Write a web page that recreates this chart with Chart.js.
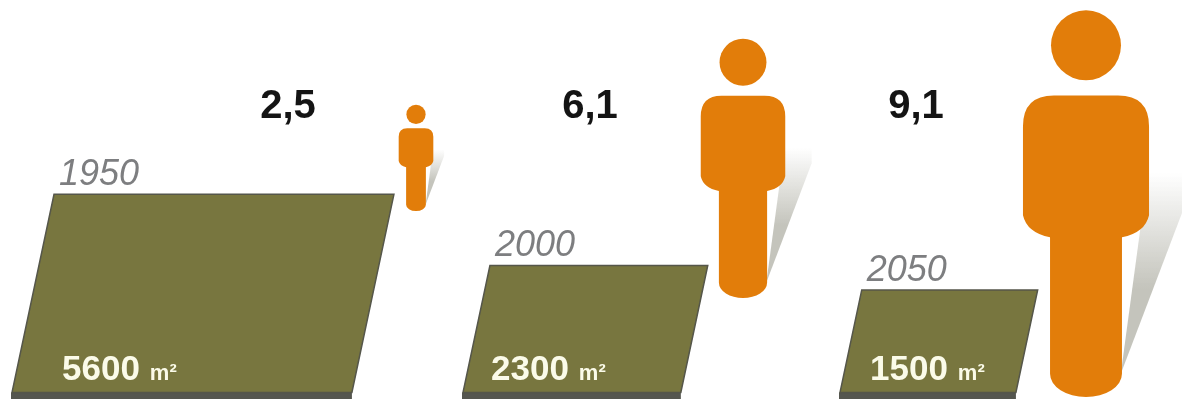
<!DOCTYPE html>
<html>
<head>
<meta charset="utf-8">
<title>Land per person</title>
<style>
    body { margin: 0; background: #fff; }
    canvas { display: block; }
</style>
<script src="https://cdn.jsdelivr.net/npm/chart.js@4"></script>
</head>
<body>
<canvas id="landChart" width="1182" height="399"></canvas>
<script>
// Data
var years = ['1950', '2000', '2050'];
var landArea = [5600, 2300, 1500];   // m2 per person
var population = [2.5, 6.1, 9.1];    // billions

// Layout of the three groups, relative to the category centre
var landShift = [-185, -128, -145];
var personShift = [219, 152, 101];
var personFoot = [211, 298, 397];
var valueLabelX = [288, 590, 916];
var areaLabelX = [62, 491, 870];
var unitGap = 10;

// Scale where value maps to pixels by square root, so land area stays proportional
class SqrtScale extends Chart.LinearScale {
    getPixelForValue(value) {
        return super.getPixelForValue(Math.sqrt(value));
    }
}
SqrtScale.id = 'sqrt';
SqrtScale.defaults = Chart.LinearScale.defaults;
Chart.register(SqrtScale);

function drawLand(ctx, bar, i) {
    var h = bar.base - bar.y;
    var w = h * 1.715;
    var skew = h * 0.212;
    var left = bar.x + landShift[i];

    // dark ground strip
    ctx.fillStyle = '#55564f';
    ctx.fillRect(left - 1, bar.base, w + 1, 399 - bar.base);

    ctx.beginPath();
    ctx.moveTo(left + skew, bar.y);
    ctx.lineTo(left + skew + w, bar.y);
    ctx.lineTo(left + w, bar.base);
    ctx.lineTo(left, bar.base);
    ctx.closePath();
    ctx.fillStyle = '#78763f';
    ctx.fill();
    ctx.strokeStyle = '#55564a';
    ctx.lineWidth = 1.5;
    ctx.stroke();

    // year above, area inside
    ctx.textBaseline = 'alphabetic';
    ctx.textAlign = 'left';
    ctx.font = 'italic 36px "Liberation Sans"';
    ctx.fillStyle = '#7d7e80';
    ctx.fillText(years[i], left + skew + 5, bar.y - 9);

    ctx.font = 'bold 35px "Liberation Sans"';
    ctx.fillStyle = '#fbfbe9';
    var text = String(landArea[i]);
    ctx.fillText(text, areaLabelX[i], 380);
    var textWidth = ctx.measureText(text).width;
    ctx.font = 'bold 22px "Liberation Sans"';
    ctx.fillText('m\u00b2', areaLabelX[i] + textWidth + unitGap, 380);
}

function drawShadow(ctx, cx, foot, h) {
    var grad = ctx.createLinearGradient(0, foot - 0.58 * h, 0, foot - 0.28 * h);
    grad.addColorStop(0, 'rgba(196,196,188,0)');
    grad.addColorStop(0.3, 'rgba(196,196,188,0.3)');
    grad.addColorStop(1, 'rgba(196,196,188,1)');
    ctx.beginPath();
    ctx.moveTo(cx + 0.09 * h, foot - 0.06 * h);
    ctx.lineTo(cx + 0.265 * h, foot - 0.52 * h);
    ctx.lineTo(cx + 0.265 * h, foot - 0.58 * h);
    ctx.lineTo(cx + 0.16 * h, foot - 0.58 * h);
    ctx.closePath();
    ctx.fillStyle = grad;
    ctx.fill();
}

function drawPerson(ctx, bar, i) {
    var h = bar.base - bar.y;
    var cx = bar.x + personShift[i];
    var foot = personFoot[i];
    var top = foot - h;

    var headR = 0.0905 * h;
    var torsoTop = foot - 0.78 * h;
    var torsoW = 0.163 * h;
    var legW = 0.093 * h;
    var corner = 0.08 * h;
    var sideEnd = foot - 0.47 * h;
    var hip = foot - 0.413 * h;
    var legEnd = foot - 0.06 * h;

    drawShadow(ctx, cx, foot, h);

    ctx.fillStyle = '#e27d0a';
    ctx.beginPath();
    ctx.arc(cx, top + headR, headR, 0, Math.PI * 2);
    ctx.fill();

    ctx.beginPath();
    ctx.moveTo(cx - torsoW + corner, torsoTop);
    ctx.lineTo(cx + torsoW - corner, torsoTop);
    ctx.quadraticCurveTo(cx + torsoW, torsoTop, cx + torsoW, torsoTop + corner);
    ctx.lineTo(cx + torsoW, sideEnd);
    ctx.quadraticCurveTo(cx + torsoW - 0.01 * h, hip - 0.012 * h, cx + legW, hip);
    ctx.lineTo(cx + legW, legEnd);
    ctx.ellipse(cx, legEnd, legW, foot - legEnd, 0, 0, Math.PI);
    ctx.lineTo(cx - legW, hip);
    ctx.quadraticCurveTo(cx - torsoW + 0.01 * h, hip - 0.012 * h, cx - torsoW, sideEnd);
    ctx.lineTo(cx - torsoW, torsoTop + corner);
    ctx.quadraticCurveTo(cx - torsoW, torsoTop, cx - torsoW + corner, torsoTop);
    ctx.closePath();
    ctx.fill();

    // population figure
    ctx.textBaseline = 'alphabetic';
    ctx.textAlign = 'center';
    ctx.font = 'bold 40px "Liberation Sans"';
    ctx.fillStyle = '#141414';
    ctx.fillText(population[i].toFixed(1).replace('.', ','), valueLabelX[i], 118);
}

// The bars stay invisible, their elements give the size of each figure
var figures = {
    id: 'figures',
    afterDatasetsDraw: function(chart) {
        var ctx = chart.ctx;
        ctx.save();
        chart.getDatasetMeta(0).data.forEach(function(bar, i) { drawLand(ctx, bar, i); });
        chart.getDatasetMeta(1).data.forEach(function(bar, i) { drawPerson(ctx, bar, i); });
        ctx.restore();
    }
};

new Chart(document.getElementById('landChart').getContext('2d'), {
    type: 'bar',
    data: {
        labels: years,
        datasets: [
            { label: 'Land (m2)', data: landArea, yAxisID: 'land', grouped: false, backgroundColor: 'transparent' },
            { label: 'Population', data: population, yAxisID: 'people', grouped: false, backgroundColor: 'transparent' }
        ]
    },
    options: {
        responsive: false,
        animation: false,
        layout: { padding: 0 },
        plugins: { legend: { display: false }, tooltip: { enabled: false } },
        scales: {
            x: { display: false },
            people: { type: 'linear', display: false, min: 0, max: 9.39 },
            land: { type: 'sqrt', display: false, min: -2.45, max: 148.2 }
        }
    },
    plugins: [figures]
});
</script>
</body>
</html>
